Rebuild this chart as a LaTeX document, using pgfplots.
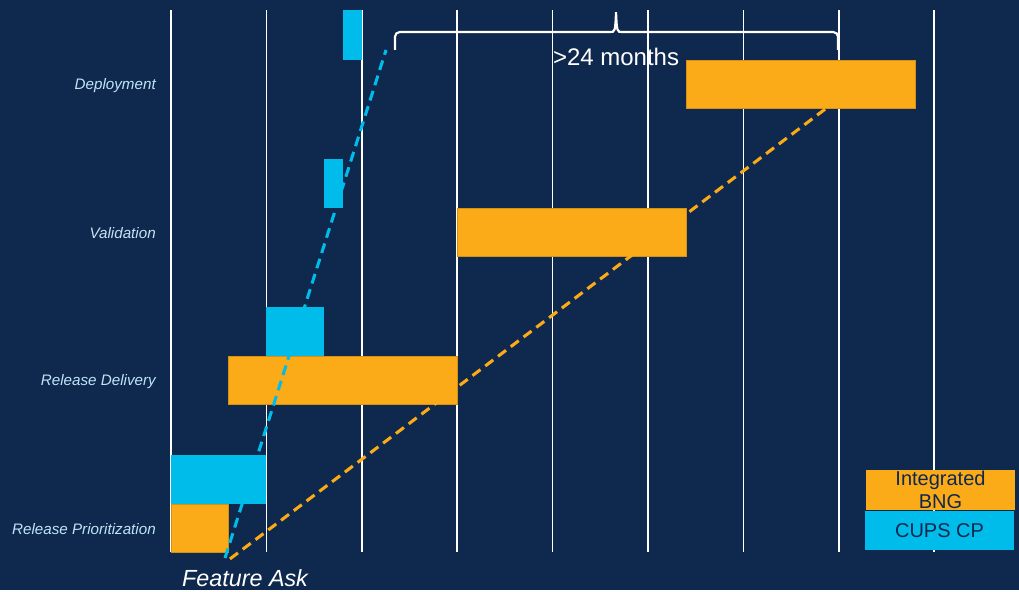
\documentclass[border=0pt]{standalone}
\usepackage{pgfplots}
\pgfplotsset{compat=1.18}
\usepackage{fontspec}
\setmainfont{Liberation Sans}
\definecolor{bgnavy}{HTML}{0F284D}
\definecolor{borange}{HTML}{FBAB18}
\definecolor{bcyan}{HTML}{00BCEB}
\definecolor{lblblue}{HTML}{BFE4F7}
\begin{document}
\begin{tikzpicture}
\begin{axis}[
  scale only axis,
  width=764.25pt, height=442.5pt,
  xmin=-1.7925, xmax=8.889,
  ymin=-0.4189, ymax=3.5676,
  axis line style={draw=none},
  ticks=none,
  axis background/.style={fill=bgnavy},
  clip=false,
]
% grid lines
\foreach \k in {0,...,8} {
  \edef\tmp{\noexpand\addplot[white, line width=1.1pt, forget plot] coordinates {(\k,-0.162) (\k,3.5)};}
  \tmp
}
% Integrated BNG (orange)
\addplot[fill=borange, draw=borange!85!black, line width=0.4pt] coordinates {(0,-0.162) (0.6,-0.162) (0.6,0.162) (0,0.162)} --cycle;
\addplot[fill=borange, draw=borange!85!black, line width=0.4pt] coordinates {(0.6,0.838) (3,0.838) (3,1.162) (0.6,1.162)} --cycle;
\addplot[fill=borange, draw=borange!85!black, line width=0.4pt] coordinates {(3,1.838) (5.4,1.838) (5.4,2.162) (3,2.162)} --cycle;
\addplot[fill=borange, draw=borange!85!black, line width=0.4pt] coordinates {(5.4,2.838) (7.8,2.838) (7.8,3.162) (5.4,3.162)} --cycle;
% CUPS CP (cyan)
\addplot[fill=bcyan, draw=none] coordinates {(0,0.162) (1,0.162) (1,0.493) (0,0.493)} --cycle;
\addplot[fill=bcyan, draw=none] coordinates {(1,1.162) (1.6,1.162) (1.6,1.493) (1,1.493)} --cycle;
\addplot[fill=bcyan, draw=none] coordinates {(1.6,2.162) (1.8,2.162) (1.8,2.493) (1.6,2.493)} --cycle;
\addplot[fill=bcyan, draw=none] coordinates {(1.8,3.162) (2.0,3.162) (2.0,3.5) (1.8,3.5)} --cycle;
% trend lines
\addplot[bcyan, line width=2.3pt, dash pattern=on 7.5pt off 4.5pt] coordinates {(0.566,-0.203) (2.254,3.230)};
\addplot[borange, line width=2.3pt, dash pattern=on 7.5pt off 4.5pt] coordinates {(0.618,-0.209) (6.887,2.845)};
% category labels
\foreach \y/\t in {0/Release Prioritization,1/Release Delivery,2/Validation,3/Deployment} {
  \edef\tmp{\noexpand\node[anchor=east, text=lblblue, font=\noexpand\fontsize{11.4}{13.5}\noexpand\selectfont\noexpand\itshape, inner sep=0pt] at (axis cs:-0.157,\y-0.01) {\t};}
  \tmp
}
% brace
\draw[white, line width=1.6pt, rounded corners=3.5pt]
  (axis cs:2.348,3.230) -- (axis cs:2.348,3.351) -- (axis cs:4.60,3.351);
\draw[white, line width=1.6pt]
  (axis cs:4.60,3.351) .. controls (axis cs:4.655,3.351) .. (axis cs:4.665,3.486)
  .. controls (axis cs:4.675,3.351) .. (axis cs:4.73,3.351);
\draw[white, line width=1.6pt, rounded corners=3.5pt]
  (axis cs:4.73,3.351) -- (axis cs:6.992,3.351) -- (axis cs:6.992,3.230);
\node[text=white, font=\fontsize{18}{21}\selectfont] at (axis cs:4.665,3.185) {>24 months};
% Feature Ask
\node[text=white, font=\fontsize{17.5}{20}\selectfont\itshape] at (axis cs:0.776,-0.338) {Feature Ask};
% legend
\path[fill=borange] (axis cs:7.285,0.122) rectangle (axis cs:8.847,0.392);
\node[text=bgnavy, align=center, font=\fontsize{15}{17.5}\selectfont] at (axis cs:8.066,0.257) {Integrated\\BNG};
\path[fill=bcyan] (axis cs:7.275,-0.149) rectangle (axis cs:8.837,0.115);
\node[text=bgnavy, font=\fontsize{15}{17.5}\selectfont] at (axis cs:8.056,-0.017) {CUPS CP};
\end{axis}
\end{tikzpicture}
\end{document}
